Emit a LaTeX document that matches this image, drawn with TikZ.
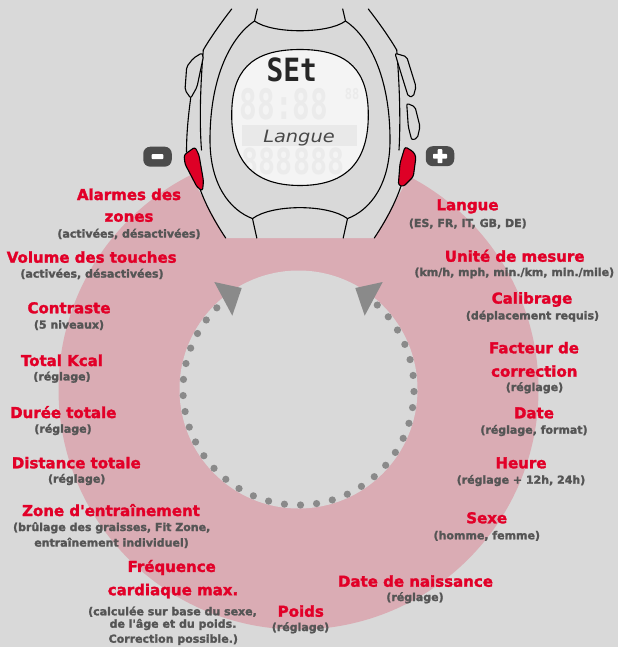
\documentclass[tikz,border=0pt]{standalone}
\usepackage{fontspec}
\setmainfont{DejaVu Sans}[Ligatures=TeXOff, BoldFeatures={FakeBold=1.8}]
\newfontfamily\lcdfont{DejaVu Sans Mono}
\usetikzlibrary{calc}

\definecolor{bggray}{RGB}{217,217,217}
\definecolor{ringpink}{RGB}{218,172,180}
\definecolor{dotgray}{RGB}{138,138,138}
\definecolor{titlered}{RGB}{226,0,40}
\definecolor{subgray}{RGB}{85,85,85}
\definecolor{keyred}{RGB}{222,0,38}
\definecolor{keygray}{RGB}{75,75,75}
\definecolor{lcdbg}{RGB}{244,244,244}
\definecolor{lcdghost}{RGB}{235,235,235}
\definecolor{lcdband}{RGB}{233,233,233}
\definecolor{lcdink}{RGB}{38,38,38}
\definecolor{lcdmenu}{RGB}{72,72,72}

\begin{document}
\begin{tikzpicture}[x=1pt,y=-1pt,
  title/.style={anchor=base, inner sep=0pt, text=titlered,
    font=\bfseries\fontsize{15}{18}\selectfont},
  note/.style={anchor=base, inner sep=0pt, text=subgray,
    font=\bfseries\fontsize{11}{13}\selectfont},
  outline/.style={draw=black, line width=1.1pt, line join=round, line cap=round},
  keyshell/.style={outline, fill=bggray, rounded corners=2pt},
  sidekey/.style={outline, fill=keyred, rounded corners=2.5pt},
  keycap/.style={rectangle, rounded corners=7pt, fill=keygray, inner sep=0pt,
    minimum width=28.5pt, minimum height=20pt},
  lcdtext/.style={anchor=base, inner sep=0pt},
]
% canvas
\fill[bggray] (0,0) rectangle (618,647);
\useasboundingbox (0,0) rectangle (618,647);

% menu ring
\coordinate (C) at (298.5,389.5);
\fill[ringpink] (C) circle (240pt);
\fill[bggray] (C) circle (119pt);
\foreach \k in {0,...,34}
  \fill[dotgray] ($(C)+({8*\k-47}:115.5)$) circle (3.6pt);
\fill[dotgray] (214.3,282) -- (241.7,288) -- (232.3,315.7) -- cycle;
\fill[dotgray] (382.7,282) -- (355.3,288) -- (364.7,315.7) -- cycle;

% watch silhouette
\fill[bggray] (231.7,0) -- (231.7,9) .. controls (220,24) and (209,40) .. (203.3,50)
  -- (187,66) -- (184,89) -- (186.5,150) -- (184,155) -- (185,164) -- (197,187)
  -- (225.7,238) -- (374.3,238) -- (403.3,187) -- (413.3,177) -- (416,157)
  -- (420,127) -- (416,87) -- (396.7,50) .. controls (391,40) and (380,24) .. (368.3,9)
  -- (368.3,0) -- cycle;

% outer case edges
\draw[outline] (231.7,9) .. controls (220,24) and (209,40) .. (203.3,50);
\draw[outline] (368.3,9) .. controls (380,24) and (391,40) .. (396.7,50);
\draw[outline] (203.3,50) .. controls (200,90) and (199.5,125) .. (201.5,150);
\draw[outline] (396.7,50) .. controls (400,90) and (400.5,125) .. (399,150);
\draw[outline] (190.7,98) .. controls (188,118) and (186.5,135) .. (186.5,152);
\draw[outline] (199,186) .. controls (205,204) and (215,222) .. (225.7,238);
\draw[outline] (401,186) .. controls (395,204) and (385,222) .. (374.3,238);

% bezel and strap edges
\draw[outline] (257.3,9) -- (254.5,21) .. controls (232,36) and (210,75) .. (210,140)
  .. controls (210,185) and (230,210) .. (252.5,218.6) -- (256.8,238);
\draw[outline] (342.7,9) -- (345.5,21) .. controls (368,36) and (390,75) .. (390,140)
  .. controls (390,185) and (370,210) .. (347.5,218.6) -- (343.2,238);
\draw[outline] (254.5,21) .. controls (272,34) and (328,34) .. (345.5,21);
\draw[outline] (252.5,218.6) .. controls (272,204) and (328,204) .. (347.5,218.6);

% side keys
\filldraw[keyshell] (201.7,53) -- (203.5,56) -- (197,87) -- (190.7,98.3) -- (185,90)
  -- (186.7,66.7) -- (193.3,58.3) -- cycle;
\filldraw[keyshell] (395,53.3) -- (406.7,56.7) -- (416,86.7) -- (413.3,96.7)
  -- (408.3,96.7) -- (400,70) -- cycle;
\filldraw[keyshell] (406.7,103.3) -- (415,106.7) -- (420,126.7) -- (417.3,138.3)
  -- (411.7,140) -- (408.3,126.7) -- cycle;
\filldraw[sidekey] (184,155) -- (195,147) -- (199,155) -- (203.5,181) -- (202.5,191)
  -- (197,187) -- (185,164) -- cycle;
\filldraw[sidekey] (405,146.7) -- (413.3,151.7) -- (416,156.7) -- (413.3,176.7)
  -- (403.3,186.7) -- (398.3,185) -- (400,163.3) -- cycle;

% minus and plus keys
\node[keycap] (minuskey) at (157.5,156.7) {};
\fill[white, rounded corners=0.8pt] ($(minuskey)+(-5.8,-2.5)$) rectangle ($(minuskey)+(5.8,2.5)$);
\node[keycap] (pluskey) at (440,156.2) {};
\fill[white, rounded corners=0.8pt] ($(pluskey)+(-7,-2.4)$) rectangle ($(pluskey)+(7,2.4)$);
\fill[white, rounded corners=0.8pt] ($(pluskey)+(-2.4,-7)$) rectangle ($(pluskey)+(2.4,7)$);

% display
\def\screenpath{(300,49.5) .. controls (350,49.5) and (368.3,72) .. (368.3,115)
  .. controls (368.3,160) and (348,185.5) .. (300,185.5)
  .. controls (252,185.5) and (231.7,160) .. (231.7,115)
  .. controls (231.7,72) and (250,49.5) .. (300,49.5) -- cycle}
\fill[lcdbg] \screenpath;
\begin{scope}
  \clip \screenpath;
  \fill[lcdband] (241.7,125) rectangle (356.7,146);
  \node[lcdtext, text=lcdghost, font=\lcdfont\bfseries\fontsize{42}{42}\selectfont]
    (ghosttime) at (284,120) {\scalebox{0.7}[1]{88:88}};
  \node[lcdtext, text=lcdghost, font=\lcdfont\bfseries\fontsize{15}{15}\selectfont]
    (ghostunit) at (352,100) {\scalebox{0.8}[1]{88}};
  \node[lcdtext, text=lcdghost, font=\lcdfont\bfseries\fontsize{36}{36}\selectfont]
    (ghostrow) at (293,175) {\scalebox{0.79}[1]{888888}};
  \node[lcdtext, text=lcdink, font=\lcdfont\bfseries\fontsize{32}{32}\selectfont]
    (lcdset) at (291.7,81.7) {\scalebox{0.87}[1]{SEt}};
  \node[lcdtext, text=lcdmenu, font=\itshape\fontsize{17}{17}\selectfont]
    (lcdlang) at (299,142.5) {\scalebox{1.14}[1]{Langue}};
\end{scope}
\draw[outline] \screenpath;

% settings, left side
\node[title] (alarmA) at (129,200) {Alarmes des};
\node[title] (alarmB) at (129,221.7) {zones};
\node[note]  (alarmN) at (129,237.6) {(activées, désactivées)};
\node[title] (volume) at (91.7,262.7) {Volume des touches};
\node[note]  (volumeN) at (92,277.6) {(activées, désactivées)};
\node[title] (contrast) at (69,313.3) {Contraste};
\node[note]  (contrastN) at (69,328.6) {(5 niveaux)};
\node[title] (kcal) at (62,366) {Total Kcal};
\node[note]  (kcalN) at (62,380.4) {(réglage)};
\node[title] (duree) at (63.3,418) {Durée totale};
\node[note]  (dureeN) at (63,432.7) {(réglage)};
\node[title] (dist) at (76.3,468.3) {Distance totale};
\node[note]  (distN) at (76.7,482.7) {(réglage)};
\node[title] (zone) at (111,516) {Zone d'entraînement};
\node[note]  (zoneNA) at (111.7,531) {(brûlage des graisses, Fit Zone,};
\node[note]  (zoneNB) at (111.5,546.6) {entraînement individuel)};
\node[title] (freqA) at (171.7,571.9) {Fréquence};
\node[title] (freqB) at (173,595.2) {cardiaque max.};
\node[note]  (freqNA) at (172.5,615.3) {(calculée sur base du sexe,};
\node[note]  (freqNB) at (173,627.7) {de l'âge et du poids.};
\node[note]  (freqNC) at (173.3,642.7) {Correction possible.)};

% settings, bottom
\node[title] (poids) at (300.8,616.7) {Poids};
\node[note]  (poidsN) at (300.5,631) {(réglage)};
\node[title] (naiss) at (415.5,586.7) {Date de naissance};
\node[note]  (naissN) at (415,601) {(réglage)};

% settings, right side
\node[title] (langue) at (467.5,210.2) {Langue};
\node[note]  (langueN) at (467.8,227) {(ES, FR, IT, GB, DE)};
\node[title] (unite) at (514.7,261.7) {Unité de mesure};
\node[note]  (uniteN) at (514.3,276) {(km/h, mph, min./km, min./mile)};
\node[title] (calib) at (532,303.6) {Calibrage};
\node[note]  (calibN) at (532.5,319.4) {(déplacement requis)};
\node[title] (factA) at (534,353.3) {Facteur de};
\node[title] (factB) at (534.3,376.7) {correction};
\node[note]  (factN) at (534.5,391) {(réglage)};
\node[title] (date) at (534,418.3) {Date};
\node[note]  (dateN) at (534,433.7) {(réglage, format)};
\node[title] (heure) at (521,468.3) {Heure};
\node[note]  (heureN) at (521,483.7) {(réglage + 12h, 24h)};
\node[title] (sexe) at (486.7,523.3) {Sexe};
\node[note]  (sexeN) at (486.8,539.3) {(homme, femme)};
\end{tikzpicture}
\end{document}
